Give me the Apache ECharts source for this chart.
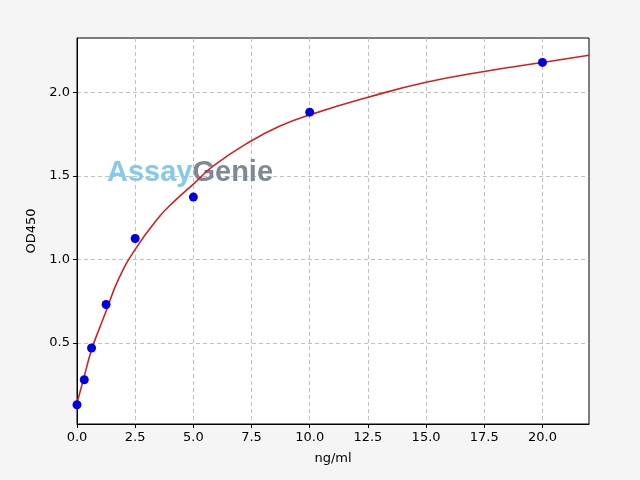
<!DOCTYPE html>
<html>
<head>
<meta charset="utf-8">
<script src="https://cdn.jsdelivr.net/npm/echarts@6/dist/echarts.min.js"></script>
<style>html,body{margin:0;padding:0;background:#f5f5f5;}#c{width:640px;height:480px;}</style>
</head>
<body>
<div id="c"></div>
<script>
// Standard points (ng/ml, OD450)
const stdConc = [0, 0.3125, 0.625, 1.25, 2.5, 5, 10, 20];
const stdOD = [0.13, 0.28, 0.47, 0.73, 1.125, 1.373, 1.881, 2.179];
// Fitted curve
const curveX = [0, 0.3125, 0.625, 1.0, 1.25, 1.78, 2.5, 3.5, 4.2, 5.0, 5.86, 7.5, 8.75, 10, 12.5, 15, 17.5, 20, 22];
const curveY = [0.14, 0.30, 0.46, 0.60, 0.69, 0.88, 1.06, 1.25, 1.35, 1.45, 1.56, 1.71, 1.80, 1.865, 1.97, 2.06, 2.125, 2.178, 2.222];
const xTicks = [0, 2.5, 5, 7.5, 10, 12.5, 15, 17.5, 20];
const yTicks = [0.5, 1.0, 1.5, 2.0];

const chart = echarts.init(document.getElementById('c'));
const font = 'DejaVu Sans';
chart.setOption({
  backgroundColor: '#f5f5f5',
  animation: false,
  grid: { left: 77, right: 51, top: 38, bottom: 56, show: true, backgroundColor: '#ffffff', borderColor: '#000', borderWidth: 1, z: 0 },
  xAxis: {
    type: 'value', min: 0, max: 22,
    name: 'ng/ml', nameLocation: 'middle', nameGap: 28,
    nameTextStyle: { color: '#000', fontSize: 13, fontFamily: font },
    axisLine: { show: true, onZero: false, lineStyle: { color: '#000', width: 1 } },
    axisTick: { show: true, length: 4, customValues: xTicks, lineStyle: { color: '#000' } },
    axisLabel: { customValues: xTicks, color: '#000', fontSize: 13, fontFamily: font, margin: 7, formatter: v => v.toFixed(1) },
    splitLine: { show: true, lineStyle: { color: '#b0b0b0', type: [4, 3], width: 0.8 } }
  },
  yAxis: {
    type: 'value', min: 0.015, max: 2.325,
    name: 'OD450', nameLocation: 'middle', nameGap: 38,
    nameTextStyle: { color: '#000', fontSize: 13, fontFamily: font },
    axisLine: { show: true, onZero: false, lineStyle: { color: '#000', width: 1 } },
    axisTick: { show: true, length: 4, customValues: yTicks, lineStyle: { color: '#000' } },
    axisLabel: { customValues: yTicks, color: '#000', fontSize: 13, fontFamily: font, margin: 7, formatter: v => v.toFixed(1) },
    splitLine: { show: true, lineStyle: { color: '#b0b0b0', type: [4, 3], width: 0.8 } }
  },
  graphic: [{
    type: 'text', left: 107, top: 158, z: 1,
    style: {
      text: '{a|Assay}{g|Genie}',
      rich: {
        a: { fill: '#85c9eb', font: 'bold 29px "Liberation Sans"' },
        g: { fill: '#7c8a97', font: 'bold 29px "Liberation Sans"' }
      }
    }
  }],
  series: [
    {
      type: 'line', data: curveX.map((x, i) => [x, curveY[i]]), smooth: 0.5,
      showSymbol: false, lineStyle: { color: '#d02020', width: 1.6 }, z: 3
    },
    {
      type: 'scatter', data: stdConc.map((x, i) => [x, stdOD[i]]),
      symbolSize: 9, itemStyle: { color: '#0000e0', opacity: 1 }, z: 4
    }
  ]
});
</script>
</body>
</html>
